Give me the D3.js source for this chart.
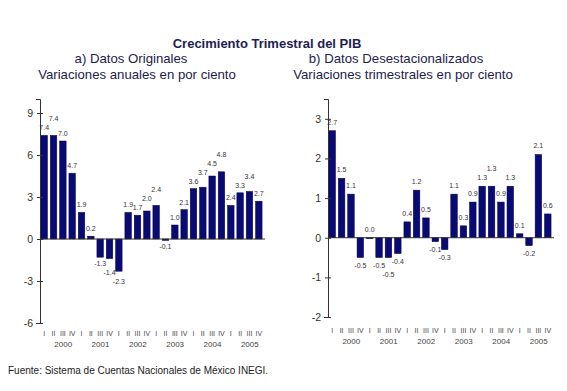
<!DOCTYPE html>
<html><head><meta charset="utf-8">
<script src="https://cdn.jsdelivr.net/npm/d3@7"></script>
<style>body{margin:0;background:#fff}svg{display:block}</style>
</head><body>
<script>
const quarters = ["I","II","III","IV"];
const years = ["2000","2001","2002","2003","2004","2005"];
const originales = [7.4,7.4,7.0,4.7, 1.9,0.2,-1.3,-1.4, -2.3,1.9,1.7,2.0, 2.4,-0.1,1.0,2.1, 3.6,3.7,4.5,4.8, 2.4,3.3,3.4,2.7];
const desestacionalizados = [2.7,1.5,1.1,-0.5, 0.0,-0.5,-0.5,-0.4, 0.4,1.2,0.5,-0.1, -0.3,1.1,0.3,0.9, 1.3,1.3,0.9,1.3, 0.1,-0.2,2.1,0.6];
const ticksLeft = [-6,-3,0,3,6,9];
const ticksRight = [-2,-1,0,1,2,3];

const loc = d3.formatLocale({decimal:".", thousands:",", grouping:[3], currency:["$",""], minus:"-"});
const fmt1 = loc.format(".1f"), fmt0 = loc.format("d");

const W = 567, H = 391;
const svg = d3.select("body").append("svg").attr("width", W).attr("height", H)
  .style("font-family", "'Liberation Sans', Arial, sans-serif");

svg.append("text").attr("x", 267).attr("y", 48).attr("text-anchor", "middle")
  .attr("font-size", 13).attr("font-weight", "bold").attr("fill", "#1e1e50")
  .text("Crecimiento Trimestral del PIB");
const subs = [
  {x:131, y:63, t:"a) Datos Originales"},
  {x:137, y:79, t:"Variaciones anuales en por ciento"},
  {x:396, y:63, t:"b) Datos Desestacionalizados"},
  {x:403, y:79, t:"Variaciones trimestrales en por ciento"}
];
subs.forEach(s => svg.append("text").attr("x", s.x).attr("y", s.y).attr("text-anchor","middle")
  .attr("font-size", 13.2).attr("fill", "#22224a").text(s.t));

svg.append("text").attr("x", 8).attr("y", 374).attr("font-size", 10).attr("fill", "#222")
  .text("Fuente: Sistema de Cuentas Nacionales de México INEGI.");

const keys = d3.range(24);

function panel(values, ticks, cfg) {
  const g = svg.append("g");
  const x = d3.scaleBand().domain(keys).range([cfg.x0, cfg.x1]).paddingInner(0.3).paddingOuter(0.1);
  const y = d3.scaleLinear().domain(cfg.dom).range([cfg.yb, cfg.yt]);
  g.selectAll("rect").data(values).join("rect")
    .attr("x", (d,i) => x(i)).attr("width", x.bandwidth())
    .attr("y", d => y(Math.max(0,d))).attr("height", d => Math.max(Math.abs(y(d)-y(0)), d===0?1:0))
    .attr("fill", "#0a0a74").attr("stroke", "#05054a").attr("stroke-width", 0.5);
  g.append("line").attr("x1", cfg.x0).attr("x2", cfg.x1 + 2).attr("y1", y(0)).attr("y2", y(0))
    .attr("stroke", "#333").attr("stroke-width", 1);
  const ax = d3.axisLeft(y).tickValues(ticks).tickFormat(fmt0).tickSize(4).tickPadding(5);
  const ag = g.append("g").attr("transform", `translate(${cfg.x0},0)`).call(ax);
  ag.select(".domain").attr("stroke", "#333");
  ag.selectAll(".tick line").attr("stroke", "#333").attr("x2", 3).attr("x1", -3);
  ag.selectAll(".tick text").attr("font-size", 10.5).attr("fill", "#333")
    .attr("font-family", "'Liberation Sans', Arial, sans-serif").attr("x", -7);
  let prev = null;
  values.forEach((v, i) => {
    const pos = v >= 0;
    let ly = pos ? y(v) - cfg.off : y(v) + cfg.off + 4;
    if (prev && prev.pos === pos && Math.abs(v) >= Math.abs(prev.v) && Math.abs(prev.ly - ly) < 6) {
      ly = pos ? prev.ly - 9 : prev.ly + 9;
    }
    prev = {ly, pos, v};
    g.append("text").attr("x", x(i) + x.bandwidth()/2).attr("y", ly).attr("text-anchor","middle")
      .attr("font-size", 7).attr("fill", "#333").text(fmt1(v));
  });
  keys.forEach(i => {
    g.append("text").attr("x", x(i) + x.bandwidth()/2).attr("y", cfg.qy).attr("text-anchor","middle")
      .attr("font-size", 7).attr("fill", "#444").text(quarters[i % 4]);
  });
  years.forEach((yr, j) => {
    const cx = (x(j*4) + x(j*4+3) + x.bandwidth())/2 + 5;
    g.append("text").attr("x", cx).attr("y", cfg.qy + 11).attr("text-anchor","middle")
      .attr("font-size", 8).attr("fill", "#444").text(yr);
  });
}

panel(originales, ticksLeft, {x0:40, x1:263, dom:[-6,10], yb:323, yt:99, off:5, qy:336});
panel(desestacionalizados, ticksRight, {x0:328, x1:552, dom:[-2,3.5], yb:317, yt:99, off:6, qy:333});
</script>
</body></html>
